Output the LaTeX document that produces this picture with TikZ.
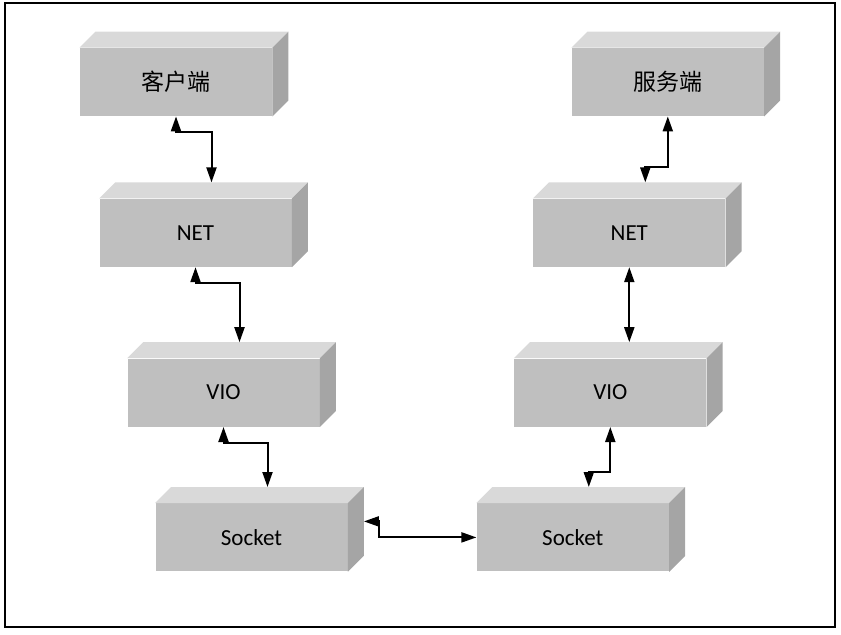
\documentclass[tikz,border=0pt]{standalone}
\usepackage{fontspec}
\setmainfont{Carlito}
\newfontfamily\cjk{Noto Sans CJK SC}
\usepackage{tikz}
\usetikzlibrary{arrows.meta,positioning}

\definecolor{boxfront}{HTML}{BFBFBF}
\definecolor{boxtop}{HTML}{D9D9D9}
\definecolor{boxside}{HTML}{A5A5A5}

\begin{document}
\begin{tikzpicture}[
    x=1pt, y=1pt,
    layer/.style={rectangle, minimum width=96pt, minimum height=34pt, text centered, fill=boxfront, font=\fontsize{11.5}{14}\selectfont},
    topface/.style={fill=boxtop},
    sideface/.style={fill=boxside},
    link/.style={line width=1pt, {Triangle[length=7.5pt,width=5pt]}-{Triangle[length=7.5pt,width=5pt]}}
]
    \useasboundingbox (0,0) rectangle (420.5,-317);
    \draw[line width=1pt] (2.5,-1.5) rectangle (417.5,-313.5);

    \node (client) [layer] at (88,-41) {\cjk 客户端};
    \node (netl) [layer, below=41pt of client, xshift=9.75pt] {NET};
    \node (viol) [layer, below=45.5pt of netl, xshift=14pt] {VIO};
    \node (sockl) [layer, below=38pt of viol, xshift=14pt] {Socket};
    \node (server) [layer, right=149.5pt of client] {\cjk 服务端};
    \node (netr) [layer, below=41pt of server, xshift=-19.25pt] {NET};
    \node (vior) [layer, below=45.5pt of netr, xshift=-9.5pt] {VIO};
    \node (sockr) [layer, below=38pt of vior, xshift=-18.75pt] {Socket};

    % top and side faces of the blocks
    \foreach \b in {client,netl,viol,sockl,server,netr,vior,sockr} {
        \fill[topface] (\b.north west) -- ++(8pt,8pt) -- ([shift={(8pt,8pt)}]\b.north east) -- (\b.north east) -- cycle;
        \fill[sideface] (\b.north east) -- ++(8pt,8pt) -- ([shift={(8pt,8pt)}]\b.south east) -- (\b.south east) -- cycle;
    }

    \coordinate (viortop) at ([yshift=8pt]vior.north);

    \draw[link] (client.south) -- ++(0,-8pt) -| ([shift={(8pt,8pt)}]netl.north);
    \draw[link] (netl.south) -- ++(0,-8pt) -| ([shift={(8pt,8pt)}]viol.north);
    \draw[link] (viol.south) -- ++(0,-8pt) -| ([shift={(8pt,8pt)}]sockl.north);
    \draw[link] ([shift={(8pt,8pt)}]sockl.east) -- ++(7.5pt,0) |- (sockr.west);
    \draw[link] ([shift={(8pt,8pt)}]sockr.north) -- ++(0,7.5pt) -| (vior.south);
    \draw[link] (netr.south) -- (netr.south |- viortop);
    \draw[link] ([shift={(8pt,8pt)}]netr.north) -- ++(0,7.5pt) -| (server.south);
\end{tikzpicture}
\end{document}
